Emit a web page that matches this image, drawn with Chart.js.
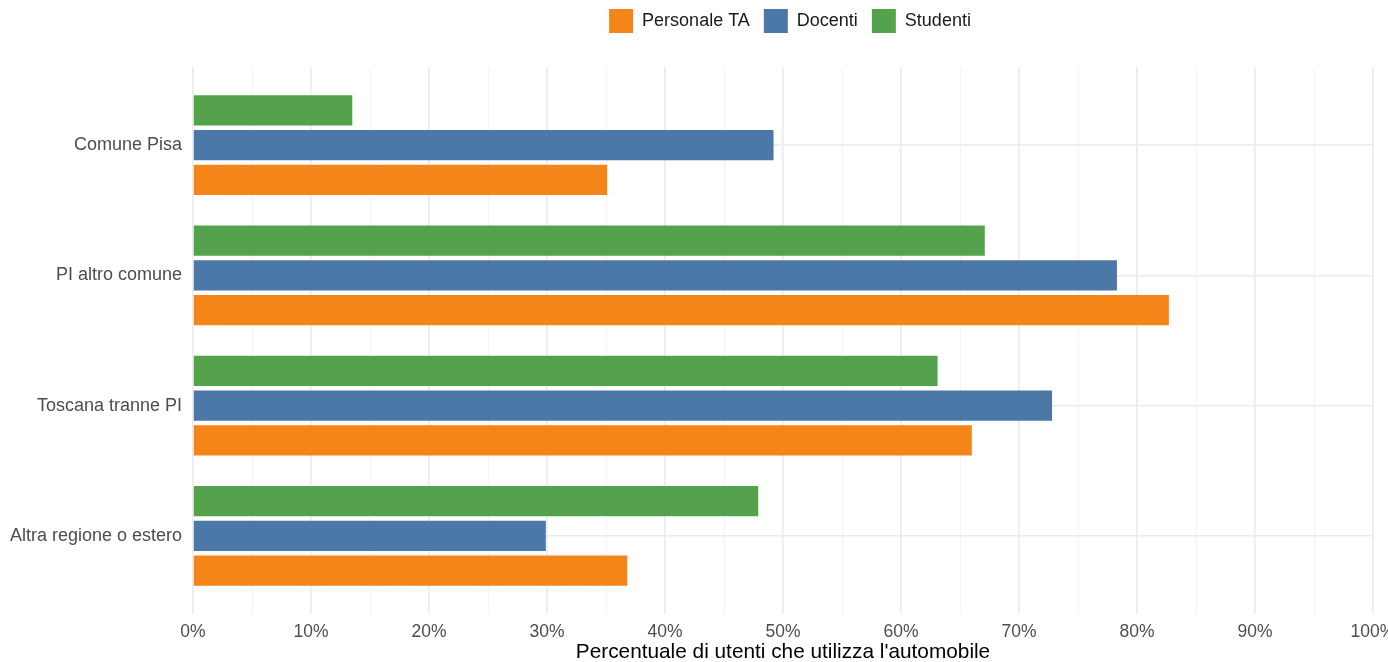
<!DOCTYPE html>
<html>
<head>
<meta charset="utf-8">
<script src="https://cdn.jsdelivr.net/npm/chart.js@4/dist/chart.umd.min.js"></script>
<style>
  html, body { margin: 0; padding: 0; background: #fff; overflow: hidden; }
  #wrap { width: 1420px; height: 662px; }
</style>
</head>
<body>
<div id="wrap"><canvas id="chart"></canvas></div>
<script>
const categorie = ['Comune Pisa', 'PI altro comune', 'Toscana tranne PI', 'Altra regione o estero'];
const studenti = [13.5, 67.1, 63.1, 47.9];
const docenti = [49.2, 78.3, 72.8, 29.9];
const personaleTA = [35.1, 82.7, 66.0, 36.8];
const ticksX = [0, 10, 20, 30, 40, 50, 60, 70, 80, 90, 100];

const fontFamily = '"Liberation Sans", Arial, Helvetica, sans-serif';

function punti(valori) {
  return valori.map((v, i) => ({ x: v, y: i }));
}

// legenda alta: lascia spazio fino all'area del grafico, e spostata un po' a destra
const legendSpace = {
  id: 'legendSpace',
  beforeInit(chart) {
    const fit = chart.legend.fit;
    chart.legend.fit = function () {
      fit.bind(chart.legend)();
      this.height = 72;
    };
  },
  afterLayout(chart) {
    chart.legend.left += 7;
    chart.legend.right += 7;
  }
};

new Chart(document.getElementById('chart'), {
  type: 'bar',
  plugins: [legendSpace],
  data: {
    datasets: [
      { label: 'Studenti', data: punti(studenti), backgroundColor: '#54A24B' },
      { label: 'Docenti', data: punti(docenti), backgroundColor: '#4C78A8' },
      { label: 'Personale TA', data: punti(personaleTA), backgroundColor: '#F58518' }
    ]
  },
  options: {
    indexAxis: 'y',
    responsive: true,
    maintainAspectRatio: false,
    animation: false,
    categoryPercentage: 0.8,
    barPercentage: 0.87,
    layout: { padding: { top: -5, right: 47, bottom: 0, left: 0 } },
    plugins: {
      tooltip: { enabled: false },
      legend: {
        position: 'top',
        fullSize: false,
        reverse: true,
        labels: {
          boxWidth: 24,
          boxHeight: 24,
          padding: 14,
          color: '#1a1a1a',
          font: { family: fontFamily, size: 18 }
        }
      }
    },
    scales: {
      x: {
        type: 'linear',
        min: 0,
        max: 100,
        border: { display: false },
        afterFit(scale) { scale.height = 48; },
        afterBuildTicks(scale) {
          const t = [];
          for (let v = 0; v <= 100; v += 5) t.push({ value: v });
          scale.ticks = t;
        },
        ticks: {
          autoSkip: false,
          maxRotation: 0,
          padding: 8,
          color: '#4D4D4D',
          font: { family: fontFamily, size: 17.5 },
          callback: v => ticksX.includes(v) ? v + '%' : ''
        },
        grid: {
          drawTicks: false,
          color: ctx => ctx.tick && ctx.tick.value % 10 === 0 ? '#EBEBEB' : '#F3F3F3',
          lineWidth: ctx => ctx.tick && ctx.tick.value % 10 === 0 ? 1.6 : 1
        },
        title: {
          display: true,
          text: "Percentuale di utenti che utilizza l'automobile",
          color: '#000',
          font: { family: fontFamily, size: 20.8, lineHeight: 0.9 },
          padding: { top: 0, bottom: 0 }
        }
      },
      y: {
        type: 'linear',
        reverse: true,
        offset: false,
        min: -0.6,
        max: categorie.length - 1 + 0.6,
        border: { display: false },
        afterFit(scale) { scale.width = 193; },
        afterBuildTicks(scale) {
          scale.ticks = categorie.map((c, i) => ({ value: i }));
        },
        ticks: {
          autoSkip: false,
          padding: 11,
          color: '#4D4D4D',
          font: { family: fontFamily, size: 18 },
          callback: v => categorie[v]
        },
        grid: {
          offset: false,
          drawTicks: false,
          color: '#EBEBEB',
          lineWidth: 1.6
        }
      }
    }
  }
});
</script>
</body>
</html>
